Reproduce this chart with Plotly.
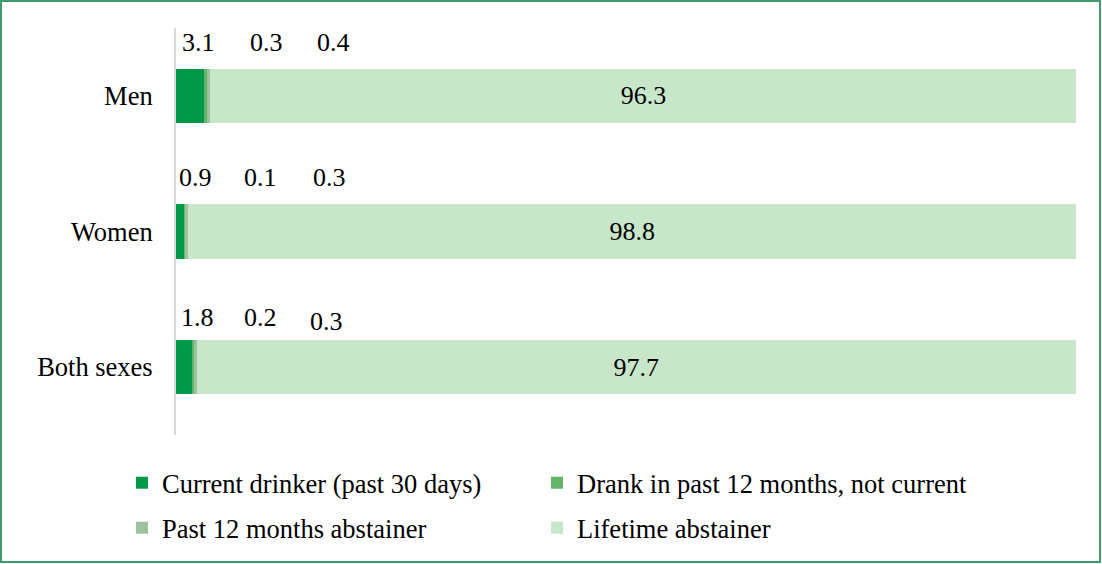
import plotly.graph_objects as go

categories = ["Men", "Women", "Both sexes"]
current_drinker = [3.1, 0.9, 1.8]
drank_past12_not_current = [0.3, 0.1, 0.2]
past12_abstainer = [0.4, 0.3, 0.3]
lifetime_abstainer = [96.3, 98.8, 97.7]

series_names = [
    "Current drinker (past 30 days)",
    "Drank in past 12 months, not current",
    "Past 12 months abstainer",
    "Lifetime abstainer",
]
series_values = [current_drinker, drank_past12_not_current, past12_abstainer, lifetime_abstainer]
colors = ["#00994A", "#64B46A", "#9DC2A0", "#C8E6C9"]
legend_ids = ["legend", "legend2", "legend3", "legend4"]

FONT = "Liberation Serif"
FS = 26
FS_LEG = 26.5
FS_TICK = 26.5

fig = go.Figure()
for i, (name, vals) in enumerate(zip(series_names, series_values)):
    is_last = i == len(series_names) - 1
    fig.add_trace(go.Bar(
        y=categories, x=vals, name=name, orientation="h",
        marker=dict(color=colors[i], line=dict(width=0)),
        text=[f"{v:.1f}" for v in vals] if is_last else None,
        textposition="inside" if is_last else "none",
        insidetextanchor="middle",
        textfont=dict(family=FONT, size=FS, color="black"),
        legend=legend_ids[i],
    ))

# labels for the small segments, placed above the bar start (as in the original)
label_xshift = [[22, 90, 157], [19, 84, 153], [21, 84, 150]]
label_yshift = [[53, 53, 53], [54, 54, 54], [50, 50, 46]]
small_series = series_values[:3]
annotations = []
for ci, cat in enumerate(categories):
    for si, vals in enumerate(small_series):
        annotations.append(dict(
            x=0, y=cat, xref="x", yref="y", text=f"{vals[ci]:.1f}",
            showarrow=False, xshift=label_xshift[ci][si], yshift=label_yshift[ci][si],
            font=dict(family=FONT, size=FS, color="black"),
        ))

L, R, T, B = 176, 26, 28, 129
W, H = 1102, 564
pw, ph = W - L - R, H - T - B

def px_x(px):
    return (px - L) / pw

def px_y(py):
    return (H - B - py) / ph

legend_common = dict(
    orientation="h", xanchor="left", yanchor="middle", traceorder="normal",
    font=dict(family=FONT, size=FS_LEG, color="black"),
    bgcolor="rgba(0,0,0,0)", itemclick=False,
)

legend_pos = [(122, 483), (537, 483), (122, 528), (537, 528)]
legend_layout = {}
for lid, (lx, ly) in zip(legend_ids, legend_pos):
    legend_layout[lid] = dict(x=px_x(lx), y=px_y(ly), **legend_common)

fig.update_layout(
    width=W, height=H,
    margin=dict(l=L, r=R, t=T, b=B, pad=0),
    barmode="stack", bargap=0.6,
    plot_bgcolor="white", paper_bgcolor="white",
    font=dict(family=FONT, size=FS, color="black"),
    xaxis=dict(range=[0, 100], visible=False, showgrid=False, zeroline=False),
    yaxis=dict(autorange="reversed", showline=True, linecolor="#D9D9D9", linewidth=2,
               showgrid=False, zeroline=False, ticks="", ticklabelstandoff=16,
               tickfont=dict(family=FONT, size=FS_TICK, color="black")),
    annotations=annotations,
    shapes=[dict(type="rect", xref="paper", yref="paper",
                 x0=px_x(1), x1=px_x(1100), y0=px_y(562), y1=px_y(1),
                 line=dict(color="#3F9C6F", width=2), fillcolor="rgba(0,0,0,0)")],
    showlegend=True,
    **legend_layout,
)

fig.write_html("out.html", config={"displayModeBar": False},
               post_script="document.body.style.margin='0';")
